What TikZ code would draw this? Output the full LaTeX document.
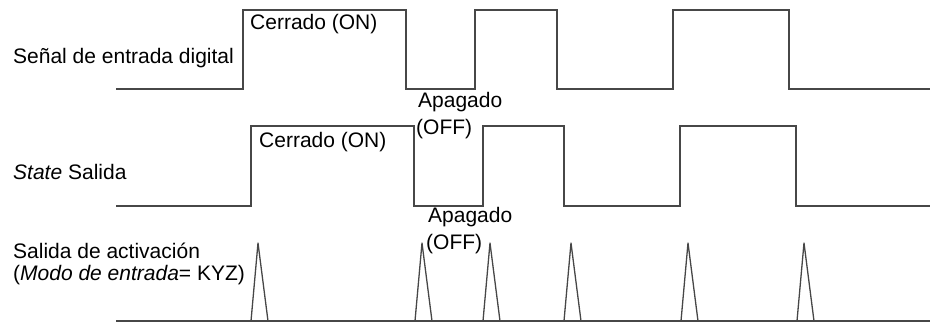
\documentclass[tikz,border=0pt]{standalone}
\usepackage{fontspec}
\setmainfont{Liberation Sans}
\begin{document}
\begin{tikzpicture}[x=1pt, y=-1pt, every node/.style={font=\fontsize{21}{25}\selectfont, inner sep=0pt, anchor=base west}]
\tikzstyle{wave}=[draw=black!72, line width=1.3pt]
\useasboundingbox (0,0) rectangle (930,324);

% signal names
\node (inlbl) at (13,63) {Señal de entrada digital};
\node (stlbl) at (13,179) {\textit{State} Salida};
\node (trlbl) at (13,258) {Salida de activación};
\node (trmode) at (13,280) {(\textit{Modo de entrada}= KYZ)};

% state labels
\node (on1) at (250,30) {Cerrado (ON)};
\node (off1) at (418,107) {Apagado};
\node (off1b) at (416,134) {(OFF)};
\node (on2) at (259,147) {Cerrado (ON)};
\node (off2) at (428,222) {Apagado};
\node (off2b) at (426,249) {(OFF)};

% digital input
\draw[wave] (116,89) -- (243,89) |- (406,10) |- (475,89) |- (557,10)
  |- (673,89) |- (789,10) |- (930,89);
% output state
\draw[wave] (116,206) -- (251,206) |- (414,126) |- (483,206) |- (564,126)
  |- (680,206) |- (796,126) |- (930,206);
% trigger pulses
\draw[wave] (116,321) -- (930,321);
\foreach \s in {251,415,483,564,681,797}
  \draw[wave, line join=round] (\s,321) -- ++(7,-78) -- ++(10,78);
\end{tikzpicture}
\end{document}
